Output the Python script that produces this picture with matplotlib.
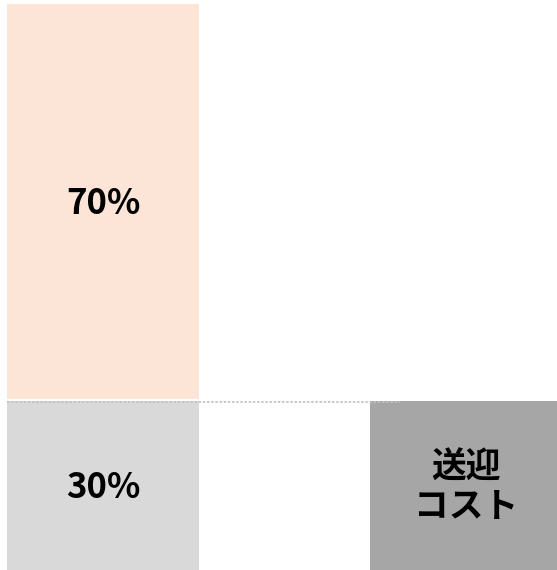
import matplotlib.pyplot as plt
import numpy as np

plt.rcParams['font.family'] = ['Noto Sans CJK JP', 'DejaVu Sans']

# data
positions = [0, 1]
base_values = [30, 30]        # bottom segment / right bar
top_values = [70, 0]          # upper segment of left bar
bar_colors = ['#d9d9d9', '#a6a6a6']
top_color = '#fce4d6'
bar_labels = ['30%', '送迎\nコスト']
top_labels = ['70%', '']

fig = plt.figure(figsize=(5.57, 5.70), dpi=100)
ax = fig.add_axes([0, 0, 1, 1])

width = 0.529
ax.bar(positions, base_values, width=width, color=bar_colors, linewidth=0)
ax.bar(positions[0], top_values[0], bottom=base_values[0] + 0.3, width=width,
       color=top_color, linewidth=0)

# dotted connector from left bar to right bar
ax.plot([positions[0] - width / 2, 0.818], [base_values[0] - 0.2] * 2,
        linestyle=(0, (1.5, 1)), color='#c0c0c0', linewidth=1.2)

# labels
for p, v, lab in zip(positions, base_values, bar_labels):
    ax.text(p, v / 2 - 0.3, lab, ha='center', va='center', fontsize=25,
            fontweight='bold', color='black', linespacing=1.15)
ax.text(positions[0], base_values[0] + top_values[0] / 2 - 0.1, top_labels[0],
        ha='center', va='center', fontsize=25, fontweight='bold', color='black')

ax.set_xlim(-0.2837, 1.2507)
ax.set_ylim(0, 101.0)
ax.axis('off')

fig.savefig('out.png', dpi=100)
